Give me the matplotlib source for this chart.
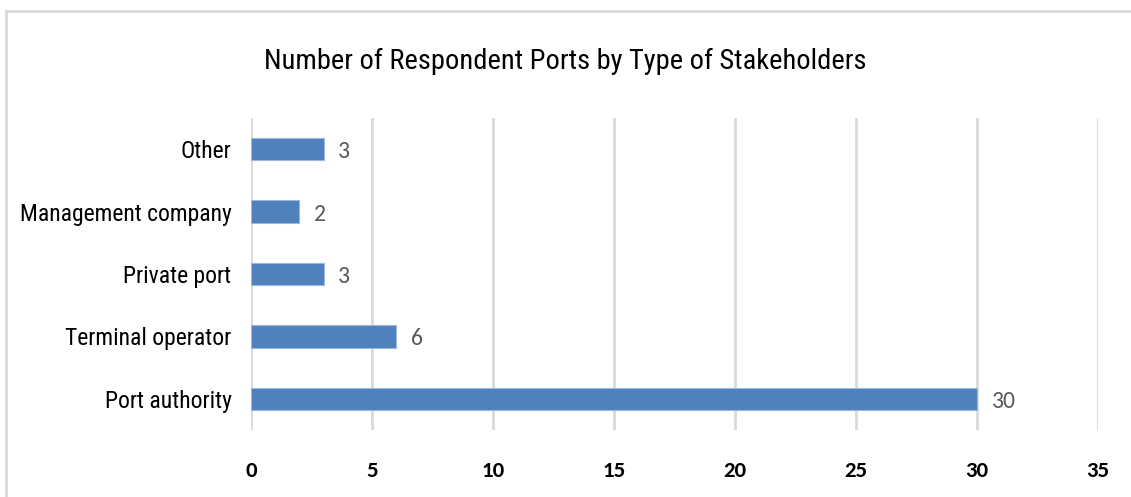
import matplotlib.pyplot as plt
from matplotlib.lines import Line2D
from matplotlib import font_manager

# Data
categories = ["Port authority", "Terminal operator", "Private port", "Management company", "Other"]
counts = [30, 6, 3, 2, 3]
x_ticks = [0, 5, 10, 15, 20, 25, 30, 35]

names = {f.name for f in font_manager.fontManager.ttflist}

def pick(options):
    for o in options:
        if o in names:
            return o
    return "DejaVu Sans"

narrow = pick(["Liberation Sans Narrow", "Arial Narrow", "Roboto Condensed", "Archivo Narrow", "Asap Condensed"])
calibri = pick(["Carlito", "Calibri", "Open Sans"])

fig = plt.figure(figsize=(11.31, 4.97), dpi=100)
ax = fig.add_axes([251 / 1131, 1 - 430 / 497, (1098 - 251) / 1131, (430 - 118) / 497])

bar_color = "#4f81bd"
ax.barh(range(len(categories)), counts, height=0.36, color=bar_color,
        edgecolor="#9bb7dc", linewidth=0.8, zorder=3)

for i, v in enumerate(counts):
    ax.text(v + 0.6, i - 0.04, str(v), va="center", ha="left", fontsize=17,
            color="#595959", family=calibri)

ax.set_xlim(0, 35)
ax.set_ylim(-0.5, len(categories) - 0.5)
ax.set_xticks(x_ticks)
ax.set_xticklabels([str(t) for t in x_ticks], fontsize=16.5, fontweight="bold",
                   family=calibri)
ax.set_yticks(range(len(categories)))
ax.set_yticklabels(categories, fontsize=17, family=narrow)
ax.tick_params(axis="x", length=0, pad=22)
ax.tick_params(axis="y", length=0, pad=14)

ax.grid(axis="x", color="#d9d9d9", linewidth=2, zorder=0)
for s in ax.spines.values():
    s.set_visible(False)

fig.text(0.5, 1 - 61 / 497, "Number of Respondent Ports by Type of Stakeholders",
         ha="center", va="center", fontsize=20.5, family=narrow)

# outer frame (top and left edges visible in the original)
fig.add_artist(Line2D([6 / 1131, 1], [1 - 11 / 497, 1 - 11 / 497],
                      transform=fig.transFigure, color="#d9d9d9", linewidth=2))
fig.add_artist(Line2D([6 / 1131, 6 / 1131], [0, 1 - 11 / 497],
                      transform=fig.transFigure, color="#d9d9d9", linewidth=2))

fig.savefig("out.png", dpi=100)
